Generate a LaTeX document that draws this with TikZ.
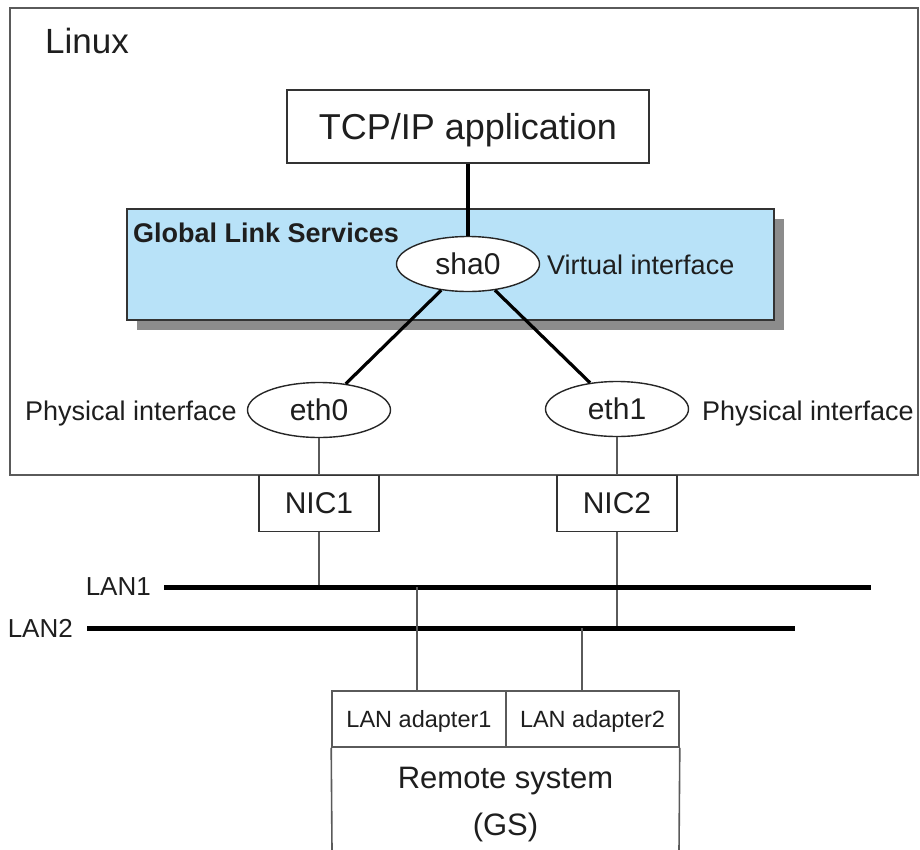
\documentclass[tikz,border=0pt]{standalone}
\usepackage{fontspec}
\setmainfont{Liberation Sans}
\usetikzlibrary{shapes.geometric}
\definecolor{txt}{HTML}{1E1E1E}
\definecolor{thin}{HTML}{5A5A5A}
\definecolor{glsblue}{HTML}{B8E2F8}
\definecolor{shadowgray}{HTML}{8C8C8C}
\tikzset{
  fs/.style={font=\fontsize{#1}{#1}\selectfont},
  lbl/.style={inner sep=0pt, text=txt},
  frame/.style={draw=thin, line width=1.6pt, inner sep=0pt, text=txt},
  ifc/.style={ellipse, draw=black!85, line width=1.4pt, fill=white, inner sep=0pt,
     minimum width=143pt, minimum height=55pt, text=txt, fs=30, text depth=0pt},
  thinline/.style={draw=thin, line width=1.6pt},
  thickline/.style={draw=black, line width=3.2pt},
  lanline/.style={draw=black, line width=5pt},
}
\begin{document}
\begin{tikzpicture}[x=1pt,y=-1pt]
\useasboundingbox (0,0) rectangle (920,849);
% Linux frame
\node[frame, minimum width=908pt, minimum height=467pt] (linux) at (464,241.5) {};
\node[lbl, fs=35, anchor=base west] (linuxlbl) at (45,53) {Linux};
% TCP/IP application
\node[frame, draw=black!80, fill=white, minimum width=362pt, minimum height=73pt, fs=36, text depth=0pt] (tcp) at (468,126.5) {TCP/IP application};
% GLS
\node[fill=shadowgray, minimum width=647pt, minimum height=111pt, inner sep=0pt] (glsshadow) at (460.5,274.5) {};
\node[draw=black!80, line width=1.4pt, fill=glsblue, minimum width=647pt, minimum height=111pt, inner sep=0pt] (gls) at (450.5,264.5) {};
\node[lbl, fs=27, font=\bfseries\fontsize{27}{27}\selectfont, anchor=base west] (glslbl) at (133,242) {Global Link Services};
% interfaces
\node[ifc] (sha0) at (468,264) {sha0};
\node[lbl, fs=27, anchor=base west] (virt) at (547,274) {Virtual interface};
\node[ifc] (eth0) at (319,410) {eth0};
\node[ifc] (eth1) at (617,409) {eth1};
\node[lbl, fs=27, anchor=base west] (phys0) at (25,420) {Physical interface};
\node[lbl, fs=27, anchor=base west] (phys1) at (702,420) {Physical interface};
% connectors
\draw[thickline] (tcp.south) -- (sha0.north);
\draw[thickline] (sha0) -- (eth0);
\draw[thickline] (sha0) -- (eth1);
% NICs
\node[frame, draw=black!80, fill=white, minimum width=120pt, minimum height=56pt, fs=30] (nic1) at (319,503.5) {NIC1};
\node[frame, draw=black!80, fill=white, minimum width=120pt, minimum height=56pt, fs=30] (nic2) at (617,503.5) {NIC2};
\draw[thinline] (eth0.south) -- (nic1.north);
\draw[thinline] (eth1.south) -- (nic2.north);
% LANs
\coordinate (lan1w) at (164,587);
\coordinate (lan1e) at (871,587);
\coordinate (lan2w) at (87,628);
\coordinate (lan2e) at (795,628);
\coordinate (lan1nic) at (319,587);
\coordinate (lan2nic) at (617,628);
\coordinate (lan1ad) at (417,587);
\coordinate (lan2ad) at (582,628);
\draw[thinline] (nic1.south) -- (lan1nic);
\draw[thinline] (nic2.south) -- (lan2nic);
\draw[lanline] (lan1w) -- (lan1e);
\draw[lanline] (lan2w) -- (lan2e);
\node[lbl, fs=26, anchor=east] (lan1lbl) at (151,587) {LAN1};
\node[lbl, fs=26, anchor=east] (lan2lbl) at (73,628) {LAN2};
% Remote system
\node[frame, minimum width=174pt, minimum height=56pt, fs=23.5, text depth=0pt] (ad1) at (419,719) {LAN adapter1};
\node[frame, minimum width=173pt, minimum height=56pt, fs=23.5, text depth=0pt] (ad2) at (592.5,719) {LAN adapter2};
\coordinate (rsbl) at (332,850);
\coordinate (rsbr) at (679,850);
\draw[thinline] (ad1.south west) -- (rsbl);
\draw[thinline] (ad2.south east) -- (rsbr);
\draw[thinline] (lan1ad) -- (lan1ad |- ad1.north);
\draw[thinline] (lan2ad) -- (lan2ad |- ad2.north);
\node[lbl, fs=31, anchor=base] (rs1) at (505.5,788) {Remote system};
\node[lbl, fs=31, anchor=base] (rs2) at (505.5,835) {(GS)};
\end{tikzpicture}
\end{document}
